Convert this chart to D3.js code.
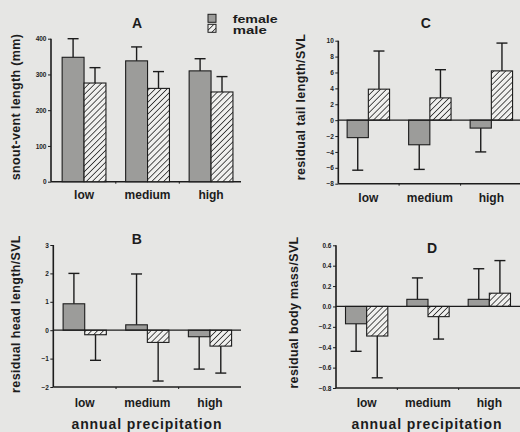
<!DOCTYPE html>
<html><head><meta charset="utf-8">
<script src="https://cdn.jsdelivr.net/npm/d3@7"></script>
<style>html,body{margin:0;padding:0;background:#e6e6e4;}svg{display:block;}</style>
</head><body>
<svg id="c" width="520" height="432"></svg>
<script>
const categories = ["low", "medium", "high"];
const sexes = ["female", "male"];
// Panel A: snout-vent length (mm)
const svlFemale = [348, 338, 310];
const svlFemaleErr = [400, 377, 344];
const svlMale = [276, 261, 251];
const svlMaleErr = [319, 308, 294];
const svlTicks = [0, 100, 200, 300, 400];
// Panel B: residual head length/SVL
const headFemale = [0.93, 0.19, -0.23];
const headFemaleErr = [2.0, 1.98, -1.37];
const headMale = [-0.16, -0.43, -0.56];
const headMaleErr = [-1.06, -1.79, -1.51];
const headTicks = [-2, -1, 0, 1, 2, 3];
// Panel C: residual tail length/SVL
const tailFemale = [-2.2, -3.1, -1.0];
const tailFemaleErr = [-6.3, -6.2, -4.0];
const tailMale = [3.9, 2.8, 6.2];
const tailMaleErr = [8.7, 6.35, 9.7];
const tailTicks = [-8, -6, -4, -2, 0, 2, 4, 6, 8, 10];
// Panel D: residual body mass/SVL
const massFemale = [-0.17, 0.07, 0.07];
const massFemaleErr = [-0.44, 0.28, 0.37];
const massMale = [-0.29, -0.10, 0.13];
const massMaleErr = [-0.70, -0.32, 0.45];
const massTicks = [-0.8, -0.6, -0.4, -0.2, 0.0, 0.2, 0.4, 0.6];

const svg = d3.select("#c");
const ink = "#1c1c1c";
const font = "'Liberation Sans', Arial, Helvetica, sans-serif";

const defs = svg.append("defs");
const pat = defs.append("pattern").attr("id", "hatch").attr("patternUnits", "userSpaceOnUse")
  .attr("width", 4.2).attr("height", 4.2).attr("patternTransform", "rotate(45)");
pat.append("rect").attr("width", 4.2).attr("height", 4.2).attr("fill", "#f0f0ee");
pat.append("line").attr("x1", 0).attr("y1", 0).attr("x2", 0).attr("y2", 4.2)
  .attr("stroke", "#2a2a2a").attr("stroke-width", 1.6);

const panels = [
  {title: "A", ylabel: "snout-vent length (mm)", f: svlFemale, fe: svlFemaleErr, m: svlMale, me: svlMaleErr,
   ticks: svlTicks, fmt: d3.format("d"), dom: [0, 400], yr: [181.7, 38.7], axisX: 51, xr: [52.3, 242.8], lineEnd: 241,
   tx: 137, ty: 28.3, cy: 199, lx: 19.5, ly: 107, zero: false, xlab: false},
  {title: "C", ylabel: "residual tail length/SVL", f: tailFemale, fe: tailFemaleErr, m: tailMale, me: tailMaleErr,
   ticks: tailTicks, fmt: d3.format("d"), dom: [-8, 10], yr: [183.7, 40.7], axisX: 338.3, xr: [337.6, 522.1], lineEnd: 522,
   tx: 425.7, ty: 28.3, cy: 201.5, lx: 305, ly: 107, zero: true, xlab: false},
  {title: "B", ylabel: "residual head length/SVL", f: headFemale, fe: headFemaleErr, m: headMale, me: headMaleErr,
   ticks: headTicks, fmt: d3.format("d"), dom: [-2, 3], yr: [387, 245], axisX: 53.3, xr: [53.4, 241.3], lineEnd: 241,
   tx: 136.7, ty: 244.3, cy: 407, lx: 19.5, ly: 314, zero: true, xlab: true, xlx: 147},
  {title: "D", ylabel: "residual body mass/SVL", f: massFemale, fe: massFemaleErr, m: massMale, me: massMaleErr,
   ticks: massTicks, fmt: d3.format(".1f"), dom: [-0.8, 0.6], yr: [388, 245.3], axisX: 336, xr: [336, 520], lineEnd: 522,
   tx: 432, ty: 252.7, cy: 407, lx: 298, ly: 312.5, zero: true, xlab: true, xlx: 427}
];

panels.forEach(p => {
  const g = svg.append("g");
  const y = d3.scaleLinear().domain(p.dom).range(p.yr);
  const x = d3.scaleBand().domain(categories).range(p.xr).paddingInner(0.31).paddingOuter(0.155);
  const xs = d3.scaleBand().domain(sexes).range([0, x.bandwidth()]);
  const base = p.zero ? y(0) : y(p.dom[0]);

  // y axis
  const ya = d3.axisLeft(y).tickValues(p.ticks).tickFormat(p.fmt).tickSize(3).tickPadding(1.5);
  const yg = g.append("g").attr("transform", `translate(${p.axisX},0)`).call(ya);
  yg.select(".domain").attr("stroke", ink).attr("stroke-width", 1.6).attr("d", `M0,${p.yr[1]}V${p.yr[0]}`);
  yg.selectAll(".tick line").attr("stroke", ink).attr("stroke-width", 1);
  yg.selectAll(".tick text").attr("font-family", font).attr("font-size", 6.5).attr("font-weight", "bold").attr("fill", ink);

  // bottom axis line
  const bottom = y(p.dom[0]);
  g.append("line").attr("x1", p.axisX).attr("x2", p.lineEnd).attr("y1", bottom).attr("y2", bottom)
    .attr("stroke", ink).attr("stroke-width", 1.6);
  // group boundary ticks
  categories.slice(1).forEach(c => {
    const bx = x(c) - x.step() * x.paddingInner() / 2;
    g.append("line").attr("x1", bx).attr("x2", bx).attr("y1", bottom).attr("y2", bottom + 2)
      .attr("stroke", ink).attr("stroke-width", 1);
  });

  const rows = [];
  categories.forEach((c, i) => {
    rows.push({c, s: "female", v: p.f[i], e: p.fe[i]});
    rows.push({c, s: "male", v: p.m[i], e: p.me[i]});
  });
  // error bars
  rows.forEach(r => {
    const cx = x(r.c) + xs(r.s) + xs.bandwidth() / 2;
    g.append("line").attr("x1", cx).attr("x2", cx).attr("y1", y(r.v)).attr("y2", y(r.e))
      .attr("stroke", ink).attr("stroke-width", 1.4);
    g.append("line").attr("x1", cx - 5.5).attr("x2", cx + 5.5).attr("y1", y(r.e)).attr("y2", y(r.e))
      .attr("stroke", ink).attr("stroke-width", 1.4);
  });
  // bars
  rows.forEach(r => {
    const bx = x(r.c) + xs(r.s);
    const top = Math.min(y(r.v), base), h = Math.abs(y(r.v) - base);
    g.append("rect").attr("x", bx).attr("y", top).attr("width", xs.bandwidth()).attr("height", h)
      .attr("fill", r.s === "female" ? "#9c9c9a" : "url(#hatch)")
      .attr("stroke", ink).attr("stroke-width", 1.1);
  });

  if (p.zero) {
    g.append("line").attr("x1", p.axisX).attr("x2", p.lineEnd).attr("y1", y(0)).attr("y2", y(0))
      .attr("stroke", ink).attr("stroke-width", 1.2);
  }

  // category labels
  categories.forEach(c => {
    g.append("text").attr("x", x(c) + x.bandwidth() / 2).attr("y", p.cy).attr("text-anchor", "middle")
      .attr("font-family", font).attr("font-size", 12).attr("font-weight", "bold").attr("fill", ink).text(c);
  });
  // title
  g.append("text").attr("x", p.tx).attr("y", p.ty).attr("text-anchor", "middle")
    .attr("font-family", font).attr("font-size", 14).attr("font-weight", "bold").attr("fill", ink).text(p.title);
  // y label
  g.append("text").attr("transform", `translate(${p.lx},${p.ly}) rotate(-90)`).attr("text-anchor", "middle")
    .attr("font-family", font).attr("font-size", 12.5).attr("font-weight", "bold").attr("fill", ink)
    .attr("letter-spacing", 0.35).text(p.ylabel);
  if (p.xlab) {
    g.append("text").attr("x", p.xlx).attr("y", 429).attr("text-anchor", "middle")
      .attr("font-family", font).attr("font-size", 14).attr("font-weight", "bold").attr("fill", ink)
      .attr("letter-spacing", 0.9).text("annual precipitation");
  }
});

// legend
const lg = svg.append("g");
const legendWidths = [45, 34];
sexes.forEach((s, i) => {
  lg.append("rect").attr("x", 208).attr("y", 14.3 + i * 10).attr("width", 8).attr("height", 8)
    .attr("fill", s === "female" ? "#9c9c9a" : "url(#hatch)").attr("stroke", ink).attr("stroke-width", 1);
  lg.append("text").attr("x", 232.7).attr("y", 22.8 + i * 11.4).attr("font-family", font).attr("font-size", 10)
    .attr("font-weight", "bold").attr("fill", ink)
    .attr("textLength", legendWidths[i]).attr("lengthAdjust", "spacingAndGlyphs").text(s);
});
</script>
</body></html>
